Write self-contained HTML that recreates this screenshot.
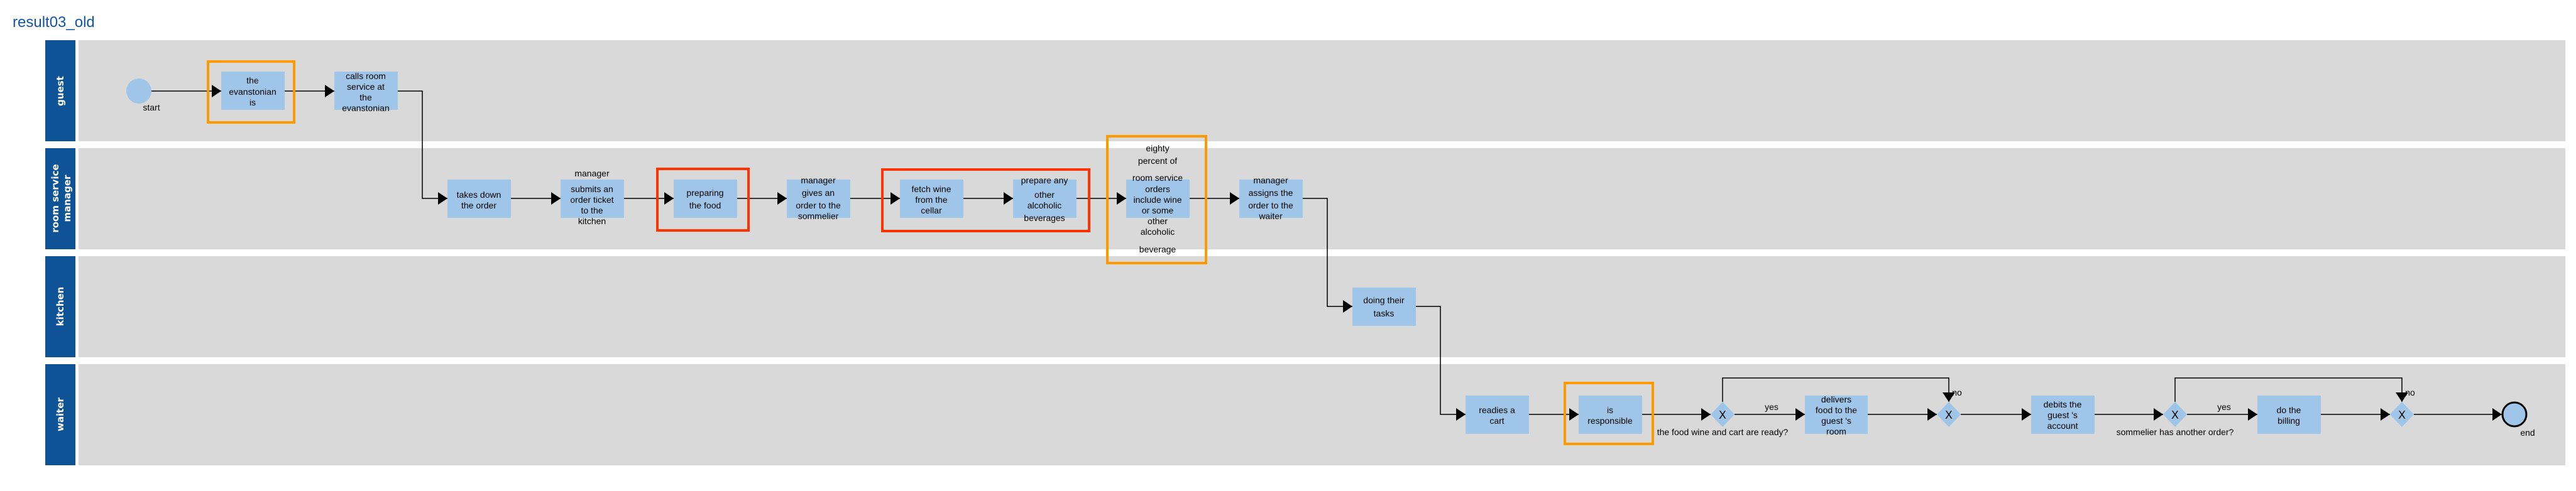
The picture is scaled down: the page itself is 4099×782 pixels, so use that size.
<!DOCTYPE html>
<html><head><meta charset="utf-8"><style>
html,body{margin:0;padding:0;background:#fff;}
svg{display:block;}
text{font-family:"Liberation Sans",sans-serif;font-size:14px;fill:#000;}
.lane{font-family:"DejaVu Sans",sans-serif;font-size:15px;fill:#fff;font-weight:bold;}
</style></head><body>
<svg width="4099" height="782" viewBox="0 0 4099 782" xmlns="http://www.w3.org/2000/svg">
<defs>
<marker id="ah" markerWidth="15" markerHeight="20" refX="15" refY="10" orient="auto" markerUnits="userSpaceOnUse">
<path d="M0,0 L15,10 L0,20 Z" fill="#000"/></marker>
</defs>
<text x="20" y="43" style="font-size:24px;fill:#1155aa">result03_old</text>

<g fill="#d9d9d9">
<rect x="125" y="64" width="3957" height="161"/>
<rect x="125" y="236" width="3957" height="161"/>
<rect x="125" y="408" width="3957" height="161"/>
<rect x="125" y="580" width="3957" height="161"/>
</g>
<g fill="#0d5396">
<rect x="72" y="64" width="48" height="161"/>
<rect x="72" y="236" width="48" height="161"/>
<rect x="72" y="408" width="48" height="161"/>
<rect x="72" y="580" width="48" height="161"/>
</g>
<text class="lane" transform="translate(101,145) rotate(-90)" text-anchor="middle">guest</text>
<text class="lane" transform="translate(93,316) rotate(-90)" text-anchor="middle">room service</text>
<text class="lane" transform="translate(112,316) rotate(-90)" text-anchor="middle">manager</text>
<text class="lane" transform="translate(101,488) rotate(-90)" text-anchor="middle">kitchen</text>
<text class="lane" transform="translate(101,660) rotate(-90)" text-anchor="middle">waiter</text>

<g stroke="#000" stroke-width="1.5" fill="none" marker-end="url(#ah)">
<path d="M241,145 H352"/>
<path d="M453,145 H532"/>
<path d="M633,145 H672 V316 H712"/>
<path d="M813,316 H892"/>
<path d="M993,316 H1072"/>
<path d="M1173,316 H1252"/>
<path d="M1353,316 H1432"/>
<path d="M1533,316 H1612"/>
<path d="M1713,316 H1792"/>
<path d="M1893,316 H1972"/>
<path d="M2073,316 H2112 V488 H2152"/>
<path d="M2253,488 H2292 V660 H2332"/>
<path d="M2433,660 H2512"/>
<path d="M2613,660 H2722"/>
<path d="M2760,660 H2872"/>
<path d="M2741,640 V602 H3101 V640"/>
<path d="M2972,660 H3082"/>
<path d="M3120,660 H3232"/>
<path d="M3333,660 H3442"/>
<path d="M3480,660 H3592"/>
<path d="M3461,640 V602 H3822 V640"/>
<path d="M3693,660 H3803"/>
<path d="M3841,660 H3981"/>
</g>

<circle cx="221" cy="145" r="20" fill="#9fc5e8"/>
<text x="241" y="176" text-anchor="middle">start</text>
<circle cx="4001" cy="660" r="19" fill="#9fc5e8" stroke="#000" stroke-width="3"/>
<text x="4022" y="694" text-anchor="middle">end</text>

<g fill="#9fc5e8">
<rect x="352" y="114" width="101" height="61"/>
<rect x="532" y="114" width="101" height="61"/>
<rect x="712" y="286" width="101" height="61"/>
<rect x="892" y="286" width="101" height="61"/>
<rect x="1072" y="286" width="101" height="61"/>
<rect x="1252" y="286" width="101" height="61"/>
<rect x="1432" y="286" width="101" height="61"/>
<rect x="1612" y="286" width="101" height="61"/>
<rect x="1792" y="286" width="101" height="61"/>
<rect x="1972" y="286" width="101" height="61"/>
<rect x="2152" y="458" width="101" height="61"/>
<rect x="2332" y="630" width="101" height="61"/>
<rect x="2512" y="630" width="101" height="61"/>
<rect x="2872" y="630" width="100" height="61"/>
<rect x="3232" y="630" width="101" height="61"/>
<rect x="3592" y="630" width="101" height="61"/>
</g>
<g fill="#9fc5e8">
<path d="M2741,640 L2760,660 L2741,680 L2722,660 Z"/>
<path d="M3101,640 L3120,660 L3101,680 L3082,660 Z"/>
<path d="M3461,640 L3480,660 L3461,680 L3442,660 Z"/>
<path d="M3822,640 L3841,660 L3822,680 L3803,660 Z"/>
</g>
<g text-anchor="middle">
<text x="2741" y="667" style="font-size:18px">X</text>
<text x="3101" y="667" style="font-size:18px">X</text>
<text x="3461" y="667" style="font-size:18px">X</text>
<text x="3822" y="667" style="font-size:18px">X</text>
</g>

<g fill="none" stroke-width="4">
<rect x="331" y="98" width="137" height="97" stroke="#ff9900"/>
<rect x="1046" y="269" width="145" height="98" stroke="#ff3300"/>
<rect x="1404" y="270" width="329" height="98" stroke="#ff3300"/>
<rect x="1762" y="217" width="157" height="202" stroke="#ff9900"/>
<rect x="2490" y="610" width="140" height="97" stroke="#ff9900"/>
</g>

<g text-anchor="middle" dominant-baseline="central">
<text x="402" y="128">the</text><text x="402" y="146">evanstonian</text><text x="402" y="163">is</text>
<text x="582" y="121">calls room</text><text x="582" y="138">service at</text><text x="582" y="155">the</text><text x="582" y="172">evanstonian</text>
<text x="762" y="310">takes down</text><text x="762" y="327">the order</text>
<text x="942" y="276">manager</text><text x="942" y="301">submits an</text><text x="942" y="318">order ticket</text><text x="942" y="335">to the</text><text x="942" y="352">kitchen</text>
<text x="1122" y="307">preparing</text><text x="1122" y="327">the food</text>
<text x="1302" y="287">manager</text><text x="1302" y="307">gives an</text><text x="1302" y="327">order to the</text><text x="1302" y="344">sommelier</text>
<text x="1482" y="301">fetch wine</text><text x="1482" y="318">from the</text><text x="1482" y="335">cellar</text>
<text x="1662" y="287">prepare any</text><text x="1662" y="310">other</text><text x="1662" y="327">alcoholic</text><text x="1662" y="347">beverages</text>
<text x="1842" y="236">eighty</text><text x="1842" y="256">percent of</text><text x="1842" y="283">room service</text><text x="1842" y="301">orders</text><text x="1842" y="318">include wine</text><text x="1842" y="335">or some</text><text x="1842" y="352">other</text><text x="1842" y="369">alcoholic</text><text x="1842" y="397">beverage</text>
<text x="2022" y="287">manager</text><text x="2022" y="307">assigns the</text><text x="2022" y="327">order to the</text><text x="2022" y="344">waiter</text>
<text x="2202" y="478">doing their</text><text x="2202" y="499">tasks</text>
<text x="2382" y="653">readies a</text><text x="2382" y="670">cart</text>
<text x="2562" y="653">is</text><text x="2562" y="670">responsible</text>
<text x="2922" y="636">delivers</text><text x="2922" y="653">food to the</text><text x="2922" y="670">guest 's</text><text x="2922" y="687">room</text>
<text x="3282" y="644">debits the</text><text x="3282" y="661">guest 's</text><text x="3282" y="678">account</text>
<text x="3642" y="653">do the</text><text x="3642" y="670">billing</text>
<text x="2741" y="688">the food wine and cart are ready?</text>
<text x="2819" y="648">yes</text>
<text x="3114" y="625">no</text>
<text x="3461" y="688">sommelier has another order?</text>
<text x="3539" y="648">yes</text>
<text x="3835" y="625">no</text>
</g>
</svg>
</body></html>
